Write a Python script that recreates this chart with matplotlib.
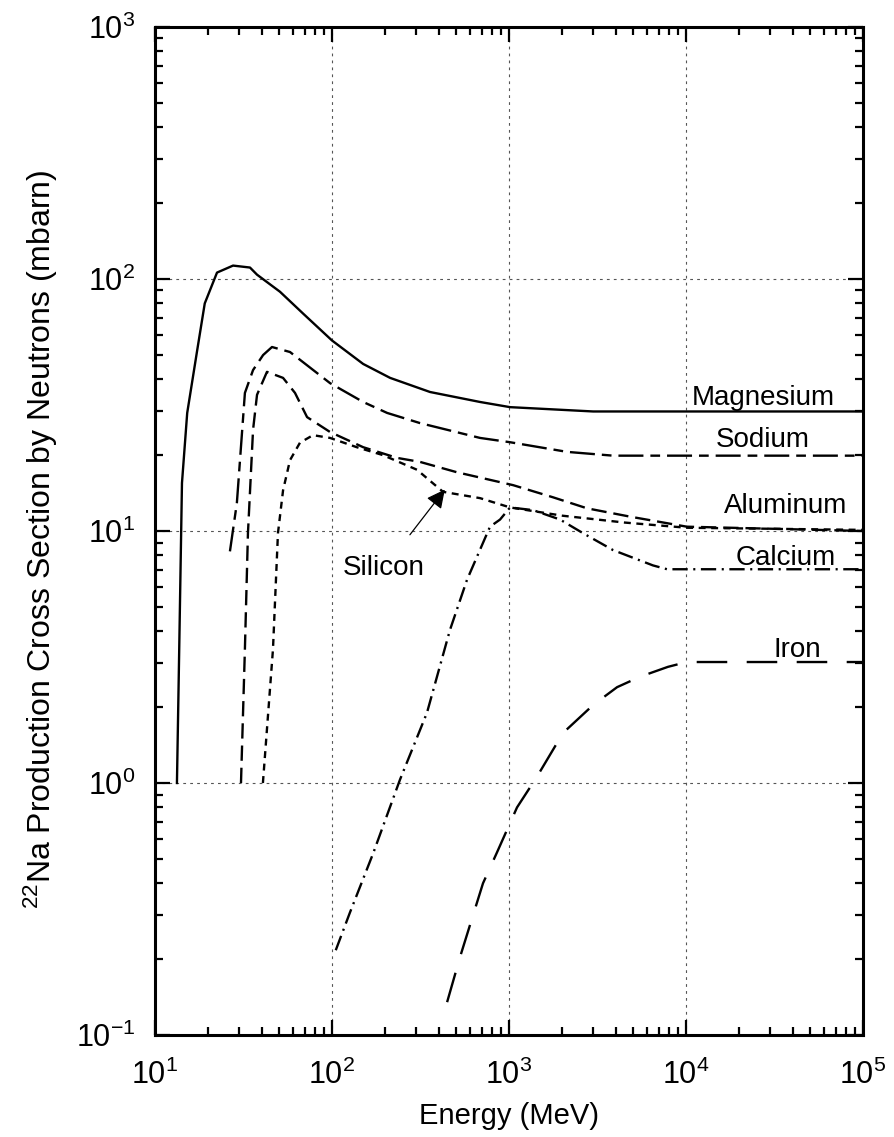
import numpy as np
import matplotlib
matplotlib.use('Agg')
import matplotlib.pyplot as plt

plt.rcParams['font.family'] = ['Liberation Sans', 'DejaVu Sans']
plt.rcParams['mathtext.fontset'] = 'custom'
plt.rcParams['mathtext.rm'] = 'Liberation Sans'
plt.rcParams['mathtext.default'] = 'regular'
plt.rcParams['axes.unicode_minus'] = False
plt.rcParams['lines.scale_dashes'] = False

# values (energy in MeV, cross section in mbarn)
mg_e = [13.3, 13.7, 14.2, 15.2, 17.3, 19.1, 22.4, 27.6, 34.4, 37.7, 50.8, 68.5, 100, 150, 213, 358, 686, 1014, 2990, 1e5]
mg_s = [1.0, 3.4, 15.5, 29.4, 52, 80, 106, 113, 111, 104, 89, 73, 57, 46, 40.5, 35.6, 32.5, 31, 29.8, 29.8]

na_e = [26.5, 29, 32.2, 35.8, 40.8, 45.8, 57.9, 97.5, 150, 205, 314, 686, 1014, 2130, 3870, 1e5]
na_s = [8.3, 12.9, 35.3, 43.5, 49.9, 53.7, 51.3, 38.6, 32.5, 29.4, 26.8, 23.4, 22.5, 20.6, 19.9, 19.9]

al_e = [30.6, 32.2, 33.5, 35.8, 37.7, 42.9, 52.9, 61.8, 72.3, 97.5, 150, 233, 314, 508, 1055, 1775, 2760, 4830, 10100, 1e5]
al_s = [1.0, 3.4, 9.8, 25.2, 34.7, 42.8, 40.5, 35.3, 28.3, 24.7, 21.5, 19.5, 18.8, 17.1, 15.2, 13.6, 12.3, 11.4, 10.4, 10.0]

si_e = [40.7, 46.4, 49.5, 52.9, 57.9, 65.9, 78.1, 97.5, 138, 194, 302, 424, 686, 1014, 2000, 4500, 10100, 1e5]
si_s = [1.0, 3.4, 9.8, 14.5, 19.1, 22.4, 24.0, 23.4, 21.5, 20.0, 17.5, 14.3, 13.5, 12.4, 11.5, 10.8, 10.3, 10.1]

ca_e = [105, 126, 171, 242, 344, 464, 579, 781, 890, 1014, 1368, 1943, 2620, 3870, 6510, 7820, 1e5]
ca_s = [0.217, 0.305, 0.527, 1.03, 1.9, 4.05, 6.4, 10.4, 11.1, 12.4, 12.1, 11.1, 9.8, 8.4, 7.3, 7.05, 7.05]

fe_e = [447, 529, 713, 855, 1110, 1440, 2020, 2990, 4080, 5500, 7910, 10100, 1e5]
fe_s = [0.135, 0.204, 0.40, 0.53, 0.80, 1.06, 1.58, 2.04, 2.40, 2.64, 2.89, 3.02, 3.02]

fig = plt.figure(figsize=(8.94, 11.37), dpi=100)
ax = fig.add_axes([0.1734, 0.0897, 0.7919, 0.8866])

lw = 1.7
ax.plot(mg_e, mg_s, color='black', lw=lw, ls='-')
ax.plot(na_e, na_s, color='black', lw=lw, dashes=(18, 5, 7, 5))
ax.plot(al_e, al_s, color='black', lw=lw, dashes=(11, 5))
ax.plot(si_e, si_s, color='black', lw=lw, dashes=(5, 4))
ax.plot(ca_e, ca_s, color='black', lw=lw, dashes=(11, 4, 1.5, 4))
ax.plot(fe_e, fe_s, color='black', lw=lw, dashes=(22, 14))

ax.set_xscale('log')
ax.set_yscale('log')
ax.set_xlim(10, 1e5)
ax.set_ylim(0.1, 1000)

ax.grid(which='major', ls=(0, (2, 3)), color='#555555', lw=0.8)
ax.tick_params(which='both', direction='in', top=True, right=True, width=1.6, labelsize=22)
ax.tick_params(which='major', length=11)
ax.tick_params(which='minor', length=6)
ax.tick_params(axis='x', which='major', pad=18)
ax.tick_params(axis='y', which='major', pad=14)
for sp in ax.spines.values():
    sp.set_linewidth(2.2)

ax.set_xlabel('Energy (MeV)', fontsize=21, labelpad=8)
ax.set_ylabel(r'$^{22}$Na Production Cross Section by Neutrons (mbarn)', fontsize=23)
ax.yaxis.set_label_coords(-0.134, 0.492)

fs = 20
ax.text(2.72e4, 31.6, 'Magnesium', fontsize=fs, ha='center', va='baseline')
ax.text(2.72e4, 21.5, 'Sodium', fontsize=fs, ha='center', va='baseline')
ax.text(3.67e4, 11.8, 'Aluminum', fontsize=fs, ha='center', va='baseline')
ax.text(3.67e4, 7.33, 'Calcium', fontsize=fs, ha='center', va='baseline')
ax.text(4.24e4, 3.16, 'Iron', fontsize=fs, ha='center', va='baseline')
ax.annotate('Silicon', xy=(434, 14.6), xytext=(197, 6.68), fontsize=fs,
            ha='center', va='baseline',
            arrowprops=dict(arrowstyle='-|>', color='#666666', lw=0.9, mutation_scale=28,
                            shrinkA=16, shrinkB=0, fc='black', ec='black'))

fig.savefig('out.png', dpi=100)
